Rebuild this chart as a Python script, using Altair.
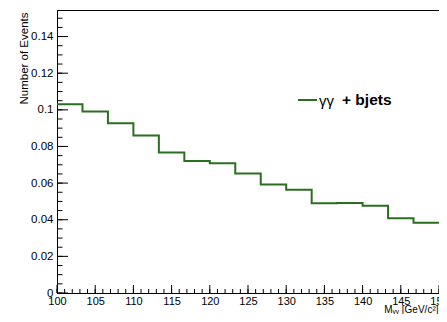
import altair as alt
import pandas as pd

# ---- data ----
bin_lo = 100.0
bin_hi = 150.0
n_bins = 15
counts = [0.1030, 0.0991, 0.0927, 0.0860, 0.0767, 0.0721, 0.0708, 0.0652,
          0.0592, 0.0563, 0.0490, 0.0491, 0.0477, 0.0408, 0.0384]

y_major = [0.0, 0.02, 0.04, 0.06, 0.08, 0.10, 0.12, 0.14]
y_minor = [i * 0.005 for i in range(31)]
x_major = [100, 105, 110, 115, 120, 125, 130, 135, 140, 145, 150]
x_minor = list(range(100, 151))

W, H = 382, 283
XDOM = [100, 150]
YDOM = [0, 0.1545]
GREEN = "#2a6e1f"
FONT = "Liberation Sans"

edges = [bin_lo + i * (bin_hi - bin_lo) / n_bins for i in range(n_bins + 1)]
hist = pd.DataFrame({"m": edges, "n": counts + [counts[-1]]})

xs = alt.Scale(domain=XDOM, nice=False, zero=False)
ys = alt.Scale(domain=YDOM, nice=False, zero=False)

xaxis = alt.Axis(
    values=x_major, tickSize=0, grid=False, domainColor="black",
    labelFont=FONT, labelFontSize=11, labelColor="black", labelPadding=2,
    labelFlush=False,
    title="Mᵧᵧ [GeV/c²]", titleFont=FONT, titleFontSize=10,
    titleFontWeight="normal", titleColor="black",
    titleAnchor="end", titleAlign="right", titleX=W - 1, titleY=19,
    titleBaseline="alphabetic")
yaxis = alt.Axis(
    values=y_major, tickSize=0, grid=False, domainColor="black",
    format="~g",
    labelFont=FONT, labelFontSize=11.5, labelColor="black", labelPadding=4,
    labelFlush=False,
    title="Number of Events", titleFont=FONT, titleFontSize=11.5,
    titleFontWeight="normal", titleColor="black",
    titleAngle=270, titleAlign="right", titleBaseline="middle",
    titleX=-33, titleY=2)

line = alt.Chart(hist).mark_line(
    interpolate="step-after", color=GREEN, strokeWidth=2
).encode(
    x=alt.X("m:Q", scale=xs, axis=xaxis),
    y=alt.Y("n:Q", scale=ys, axis=yaxis),
)

ymaj = alt.Chart(pd.DataFrame({"n": y_major})).mark_rule(color="black").encode(
    y=alt.Y("n:Q", scale=ys, axis=yaxis), x=alt.value(0), x2=alt.value(11))
ymin = alt.Chart(pd.DataFrame({"n": y_minor})).mark_rule(color="black").encode(
    y=alt.Y("n:Q", scale=ys, axis=yaxis), x=alt.value(0), x2=alt.value(5.5))
xmaj = alt.Chart(pd.DataFrame({"m": x_major})).mark_rule(color="black").encode(
    x=alt.X("m:Q", scale=xs, axis=xaxis), y=alt.value(H), y2=alt.value(H - 8))
xmin = alt.Chart(pd.DataFrame({"m": x_minor})).mark_rule(color="black").encode(
    x=alt.X("m:Q", scale=xs, axis=xaxis), y=alt.value(H), y2=alt.value(H - 4))

leg_line = alt.Chart(pd.DataFrame({"a": [0]})).mark_rule(
    color=GREEN, strokeWidth=2).encode(
    x=alt.value(241), x2=alt.value(260), y=alt.value(90))
leg_gamma = alt.Chart(pd.DataFrame({"t": ["γγ"]})).mark_text(
    font=FONT, fontSize=15, align="left", baseline="middle", color="black"
).encode(text="t:N", x=alt.value(262), y=alt.value(91))
leg_text = alt.Chart(pd.DataFrame({"t": ["+ bjets"]})).mark_text(
    font=FONT, fontSize=15.5, fontWeight="bold", align="left",
    baseline="middle", color="black"
).encode(text="t:N", x=alt.value(285), y=alt.value(90))

chart = alt.layer(line, ymin, ymaj, xmin, xmaj, leg_line, leg_gamma, leg_text).properties(
    width=W, height=H,
    autosize=alt.AutoSizeParams(type="none"),
    padding={"left": 49, "top": 2, "right": 0, "bottom": 21},
    background="white",
).configure_view(stroke="black", strokeWidth=1)

chart.save("out.html", embed_options={"renderer": "svg", "actions": False})
